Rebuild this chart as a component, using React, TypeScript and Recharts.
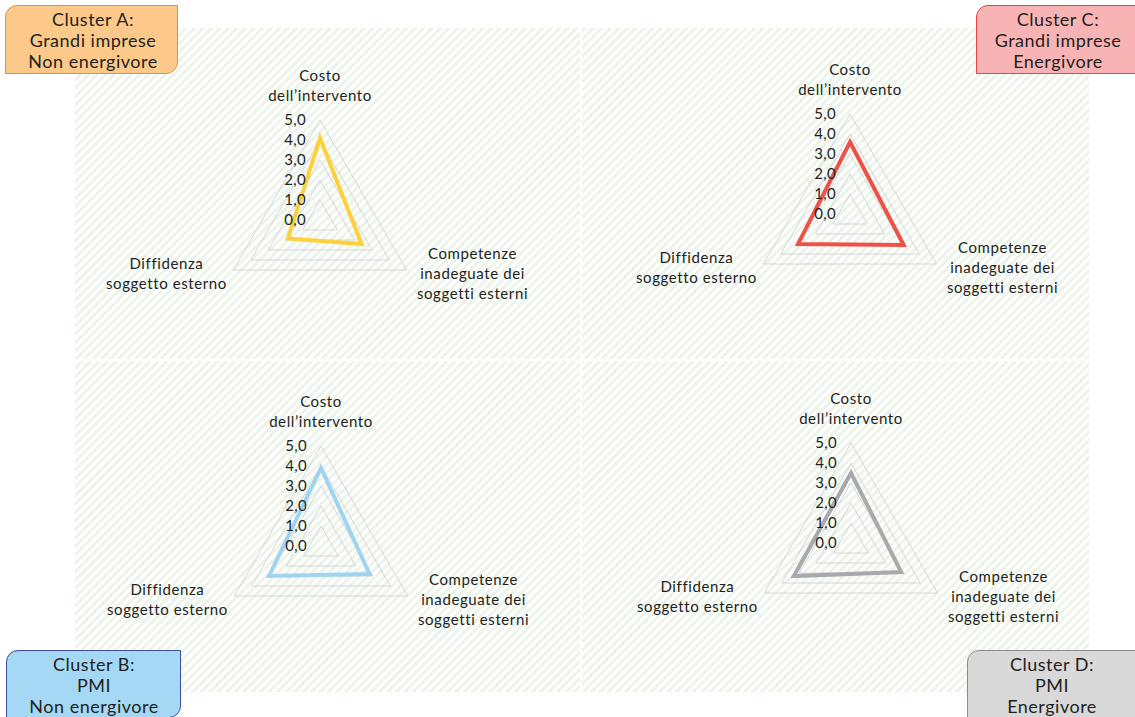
import { RadarChart, Radar, PolarGrid, PolarAngleAxis, PolarRadiusAxis } from "recharts";

const categories = ["Costo", "Competenze", "Diffidenza"];
const categoryLines = [
  ["Costo", "dell’intervento"],
  ["Competenze", "inadeguate dei", "soggetti esterni"],
  ["Diffidenza", "soggetto esterno"],
];
const radiusTicks = [0, 1, 2, 3, 4, 5];

const clusterA = [4.1, 2.4, 1.85];
const clusterB = [3.9, 2.8, 3.0];
const clusterC = [3.6, 3.1, 3.0];
const clusterD = [3.5, 2.9, 3.3];

const FONT = "Lato, 'Open Sans', sans-serif";
const TEXT = "#231f20";

const toRows = (values: number[]) =>
  categories.map((c, i) => ({ category: c, value: values[i] }));

const AngleTick = (props: any) => {
  const { x, y, payload } = props;
  const idx = categories.indexOf(payload.value);
  const lines = categoryLines[idx] || [];
  let dx = 0;
  let y0 = 0;
  if (idx === 0) {
    y0 = y - 31;
  } else if (idx === 1) {
    dx = 59;
    y0 = y - 15;
  } else {
    dx = -60;
    y0 = y - 5;
  }
  return (
    <text textAnchor="middle" fill={TEXT} fontSize={15} fontFamily={FONT} letterSpacing={0.6}>
      {lines.map((l, i) => (
        <tspan key={i} x={x + dx} y={y0 + i * 20}>
          {l}
        </tspan>
      ))}
    </text>
  );
};

const RadiusTick = (props: any) => {
  const { x, y, payload } = props;
  return (
    <text x={x - 14} y={y + 5} textAnchor="end" fill={TEXT} fontSize={15} fontFamily={FONT} letterSpacing={0.3}>
      {Number(payload.value).toFixed(1).replace(".", ",")}
    </text>
  );
};

interface PanelProps {
  left: number;
  top: number;
  width: number;
  height: number;
  cx: number;
  cy: number;
  values: number[];
  color: string;
}

function Panel({ left, top, width, height, cx, cy, values, color }: PanelProps) {
  return (
    <div style={{ position: "absolute", left, top, width, height }}>
      <RadarChart
        width={width}
        height={height}
        cx={cx}
        cy={cy}
        outerRadius={100}
        data={toRows(values)}
        margin={{ top: 0, right: 0, bottom: 0, left: 0 }}
      >
        <PolarGrid gridType="polygon" radialLines={false} stroke="#d6d6d6" strokeWidth={1} />
        <PolarAngleAxis dataKey="category" tick={AngleTick} tickLine={false} axisLine={false} />
        <PolarRadiusAxis
          angle={90}
          domain={[0, 5]}
          ticks={radiusTicks as any}
          tickCount={6}
          axisLine={false}
          tickLine={false}
          tick={RadiusTick}
        />
        <Radar
          dataKey="value"
          stroke={color}
          strokeWidth={4}
          fill="none"
          fillOpacity={0}
          dot={false}
          isAnimationActive={false}
        />
      </RadarChart>
    </div>
  );
}

interface BoxProps {
  left: number;
  top: number;
  width: number;
  height: number;
  fill: string;
  border: string;
  radius: string;
  lines: string[];
  center: number;
}

function ClusterBox({ left, top, width, height, fill, border, radius, lines, center }: BoxProps) {
  return (
    <div
      style={{
        position: "absolute",
        left,
        top,
        width,
        height,
        background: fill,
        border: `1px solid ${border}`,
        borderRadius: radius,
        boxSizing: "border-box",
      }}
    >
      <div
        style={{
          position: "absolute",
          left: center - left - 100,
          width: 200,
          top: 3,
          textAlign: "center",
          fontFamily: FONT,
          fontSize: 18,
          lineHeight: "21px",
          letterSpacing: "0.5px",
          color: TEXT,
        }}
      >
        {lines.map((l, i) => (
          <div key={i}>{l}</div>
        ))}
      </div>
    </div>
  );
}

export default function App() {
  return (
    <div
      style={{
        position: "absolute",
        left: 0,
        top: 0,
        width: 1135,
        height: 717,
        overflow: "hidden",
        background: "#ffffff",
      }}
    >
      <svg width={1135} height={717} style={{ position: "absolute", left: 0, top: 0 }}>
        <defs>
          <pattern id="stripes" width={6} height={6} patternUnits="userSpaceOnUse" patternTransform="rotate(45)">
            <rect x={0} y={0} width={3} height={6} fill="#ecf4ea" />
          </pattern>
        </defs>
        <rect x={75} y={28} width={505} height={331} fill="url(#stripes)" />
        <rect x={582} y={28} width={507} height={331} fill="url(#stripes)" />
        <rect x={75} y={361} width={505} height={331} fill="url(#stripes)" />
        <rect x={582} y={361} width={507} height={331} fill="url(#stripes)" />
      </svg>

      <Panel left={75} top={28} width={505} height={331} cx={245} cy={192} values={clusterA} color="#fdd13a" />
      <Panel left={582} top={28} width={507} height={331} cx={268} cy={186} values={clusterC} color="#ee5247" />
      <Panel left={75} top={361} width={505} height={331} cx={246} cy={185} values={clusterB} color="#9fd4f1" />
      <Panel left={582} top={361} width={507} height={331} cx={269} cy={182} values={clusterD} color="#a7a9ac" />

      <ClusterBox
        left={5}
        top={5}
        width={173}
        height={69}
        fill="#fcc98b"
        border="#ef8f2a"
        radius="12px 0 12px 0"
        lines={["Cluster A:", "Grandi imprese", "Non energivore"]}
        center={92}
      />
      <ClusterBox
        left={976}
        top={5}
        width={170}
        height={69}
        fill="#f8b4b4"
        border="#e2463c"
        radius="12px 0 0 0"
        lines={["Cluster C:", "Grandi imprese", "Energivore"]}
        center={1057}
      />
      <ClusterBox
        left={6}
        top={650}
        width={175}
        height={68}
        fill="#a4d8f4"
        border="#3c4b9b"
        radius="12px 0 12px 0"
        lines={["Cluster B:", "PMI", "Non energivore"]}
        center={93}
      />
      <ClusterBox
        left={967}
        top={650}
        width={180}
        height={80}
        fill="#d9d9da"
        border="#8c8c8c"
        radius="12px 0 0 0"
        lines={["Cluster D:", "PMI", "Energivore"]}
        center={1051}
      />
    </div>
  );
}
